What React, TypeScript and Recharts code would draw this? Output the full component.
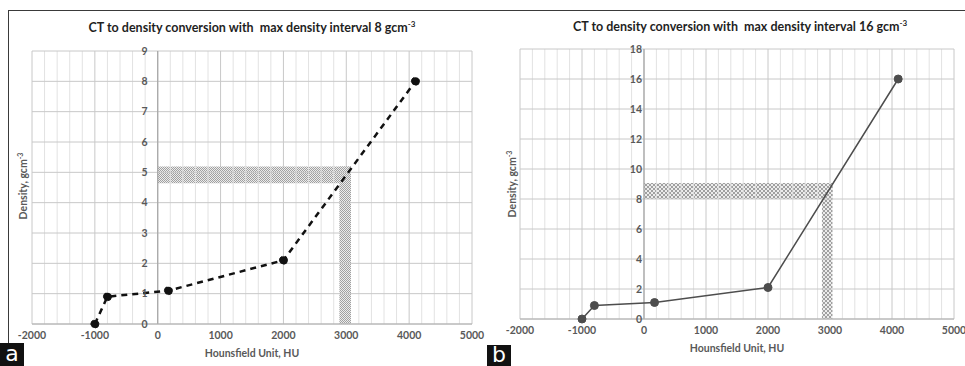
import React from "react";
import {
  CartesianGrid,
  Line,
  LineChart,
  ReferenceArea,
  ReferenceDot,
  ReferenceLine,
  XAxis,
  YAxis,
} from "recharts";

// HU -> density calibration points (same HU for both panels)
const huPoints = [-1000, -800, 170, 2000, 4100];
const densityA = [0, 0.9, 1.1, 2.1, 8];
const densityB = [0, 0.9, 1.1, 2.1, 16];

const xTicks = [-2000, -1000, 0, 1000, 2000, 3000, 4000, 5000];
const xMinorTicks = [
  -1800, -1600, -1400, -1200, -800, -600, -400, -200, 200, 400, 600, 800,
  1200, 1400, 1600, 1800, 2200, 2400, 2600, 2800, 3200, 3400, 3600, 3800,
  4200, 4400, 4600, 4800,
];
const yTicksA = [0, 1, 2, 3, 4, 5, 6, 7, 8, 9];
const yTicksB = [0, 2, 4, 6, 8, 10, 12, 14, 16, 18];

// shaded read-off bands (HU / density)
const bandsA = [
  { x1: 0, x2: 3075, y1: 4.64, y2: 5.19 },
  { x1: 2890, x2: 3075, y1: 0, y2: 5.19 },
];
const bandsB = [
  { x1: 0, x2: 3040, y1: 8.0, y2: 9.07 },
  { x1: 2870, x2: 3040, y1: 0, y2: 9.07 },
];

const FONT = "Lato, 'Open Sans', sans-serif";
const TICK = "#595959";

type Band = { x1: number; x2: number; y1: number; y2: number };

function Panel({
  width,
  height,
  margin,
  density,
  yTicks,
  bands,
  patternId,
  patternSize,
  dashed,
  lineColor,
  lineWidth,
  labelOffset,
  bandsOnTop,
}: {
  width: number;
  height: number;
  margin: { top: number; right: number; bottom: number; left: number };
  density: number[];
  yTicks: number[];
  bands: Band[];
  patternId: string;
  patternSize: number;
  dashed: boolean;
  lineColor: string;
  lineWidth: number;
  labelOffset: number;
  bandsOnTop: boolean;
}) {
  const data = huPoints.map((hu, i) => ({ hu, density: density[i] }));
  const yMax = yTicks[yTicks.length - 1];
  const half = patternSize / 2;

  const areas = bands.map((b, i) => (
    <ReferenceArea
      key={"band" + i}
      x1={b.x1}
      x2={b.x2}
      y1={b.y1}
      y2={b.y2}
      fill={`url(#${patternId})`}
      fillOpacity={1}
      stroke="none"
    />
  ));

  return (
    <LineChart width={width} height={height} data={data} margin={margin} style={{ fontFamily: FONT }}>
      <defs>
        <pattern id={patternId} width={patternSize} height={patternSize} patternUnits="userSpaceOnUse">
          <rect width={patternSize} height={patternSize} fill="#ececec" />
          <rect width={half} height={half} fill="#a0a0a0" />
          <rect x={half} y={half} width={half} height={half} fill="#a0a0a0" />
        </pattern>
      </defs>
      <CartesianGrid stroke="#c8c8c8" horizontal={false} />
      {xMinorTicks.map((t) => (
        <ReferenceLine key={"m" + t} x={t} stroke="#e2e2e2" />
      ))}
      {yTicks.map((t) => (
        <ReferenceLine key={"h" + t} y={t} stroke="#c8c8c8" />
      ))}
      <ReferenceLine x={0} stroke="#a6a6a6" strokeWidth={1.2} />
      <XAxis
        dataKey="hu"
        type="number"
        domain={[-2000, 5000]}
        ticks={xTicks}
        interval={0}
        tickLine={false}
        axisLine={{ stroke: "#b0b0b0" }}
        tick={{ fill: TICK, fontSize: 10.5, fontWeight: 700 }}
        height={20}
      />
      <YAxis
        type="number"
        domain={[0, yMax]}
        ticks={yTicks}
        interval={0}
        tick={false}
        axisLine={false}
        tickLine={false}
        width={0}
      />
      {!bandsOnTop && areas}
      <Line
        dataKey="density"
        type="linear"
        stroke={lineColor}
        strokeWidth={lineWidth}
        strokeDasharray={dashed ? "6 5" : undefined}
        dot={{ r: 4, fill: lineColor, stroke: lineColor, strokeWidth: 1 }}
        isAnimationActive={false}
      />
      {bandsOnTop && areas}
      {yTicks.map((t) => (
        <ReferenceDot
          key={"yl" + t}
          x={0}
          y={t}
          r={0}
          fill="none"
          stroke="none"
          label={{
            value: String(t),
            position: "left",
            offset: labelOffset,
            fill: TICK,
            fontSize: 10.5,
            fontWeight: 700,
            fontFamily: FONT,
          }}
        />
      ))}
    </LineChart>
  );
}

const abs = (s: React.CSSProperties): React.CSSProperties => ({ position: "absolute", ...s });

function Title({ cx, cy, max }: { cx: number; cy: number; max: number }) {
  return (
    <div
      style={abs({
        left: cx - 200,
        top: cy - 9,
        width: 400,
        textAlign: "center",
        fontFamily: FONT,
        fontWeight: 700,
        fontSize: 12.5,
        lineHeight: "18px",
        color: "#1f1f1f",
        whiteSpace: "pre",
      })}
    >
      {"CT to density conversion with  max density interval " + max + " gcm"}
      <sup style={{ fontSize: 8, verticalAlign: "5px", lineHeight: 0 }}>-3</sup>
    </div>
  );
}

function XLabel({ cx, cy }: { cx: number; cy: number }) {
  return (
    <div
      style={abs({
        left: cx - 100,
        top: cy - 8,
        width: 200,
        textAlign: "center",
        fontFamily: FONT,
        fontWeight: 700,
        fontSize: 10.5,
        lineHeight: "16px",
        color: TICK,
      })}
    >
      Hounsfield Unit, HU
    </div>
  );
}

function YLabel({ cx, cy }: { cx: number; cy: number }) {
  return (
    <div
      style={abs({
        left: cx - 60,
        top: cy - 8,
        width: 120,
        textAlign: "center",
        fontFamily: FONT,
        fontWeight: 700,
        fontSize: 10.5,
        lineHeight: "16px",
        color: TICK,
        transform: "rotate(-90deg)",
      })}
    >
      Density, gcm<sup style={{ fontSize: 7, verticalAlign: "4px", lineHeight: 0 }}>-3</sup>
    </div>
  );
}

function Tag({ x, y, text }: { x: number; y: number; text: string }) {
  return (
    <div
      style={abs({
        left: x,
        top: y,
        width: 24,
        height: 366 - y,
        background: "#111",
        color: "#fff",
        fontFamily: "'DejaVu Sans', sans-serif",
        fontSize: 22,
        lineHeight: 366 - y - 2 + "px",
        textAlign: "center",
      })}
    >
      {text}
    </div>
  );
}

export default function App() {
  return (
    <div style={abs({ left: 0, top: 0, width: 965, height: 366, background: "#fff", overflow: "hidden" })}>
      {/* frame lines */}
      <div style={abs({ left: 8, top: 10, width: 957, height: 1, background: "#3a3a3a" })} />
      <div style={abs({ left: 8, top: 10, width: 1, height: 336, background: "#3a3a3a" })} />

      <div style={abs({ left: 0, top: 0 })}>
        <Panel
          width={486}
          height={366}
          margin={{ top: 51, right: 14, bottom: 22, left: 32 }}
          density={densityA}
          yTicks={yTicksA}
          bands={bandsA}
          patternId="hatchA"
          patternSize={2}
          dashed
          lineColor="#111"
          lineWidth={2.5}
          labelOffset={10}
          bandsOnTop
        />
      </div>
      <div style={abs({ left: 485, top: 0 })}>
        <Panel
          width={480}
          height={366}
          margin={{ top: 49, right: 11, bottom: 27, left: 35 }}
          density={densityB}
          yTicks={yTicksB}
          bands={bandsB}
          patternId="hatchB"
          patternSize={4}
          dashed={false}
          lineColor="#4d4d4d"
          lineWidth={1.5}
          labelOffset={2}
          bandsOnTop={false}
        />
      </div>

      <Title cx={252} cy={28} max={8} />
      <Title cx={740} cy={27} max={16} />
      <XLabel cx={252} cy={353} />
      <XLabel cx={737} cy={348} />
      <YLabel cx={23} cy={186} />
      <YLabel cx={512} cy={184} />
      <Tag x={0} y={343} text="a" />
      <Tag x={487} y={345} text="b" />
    </div>
  );
}
